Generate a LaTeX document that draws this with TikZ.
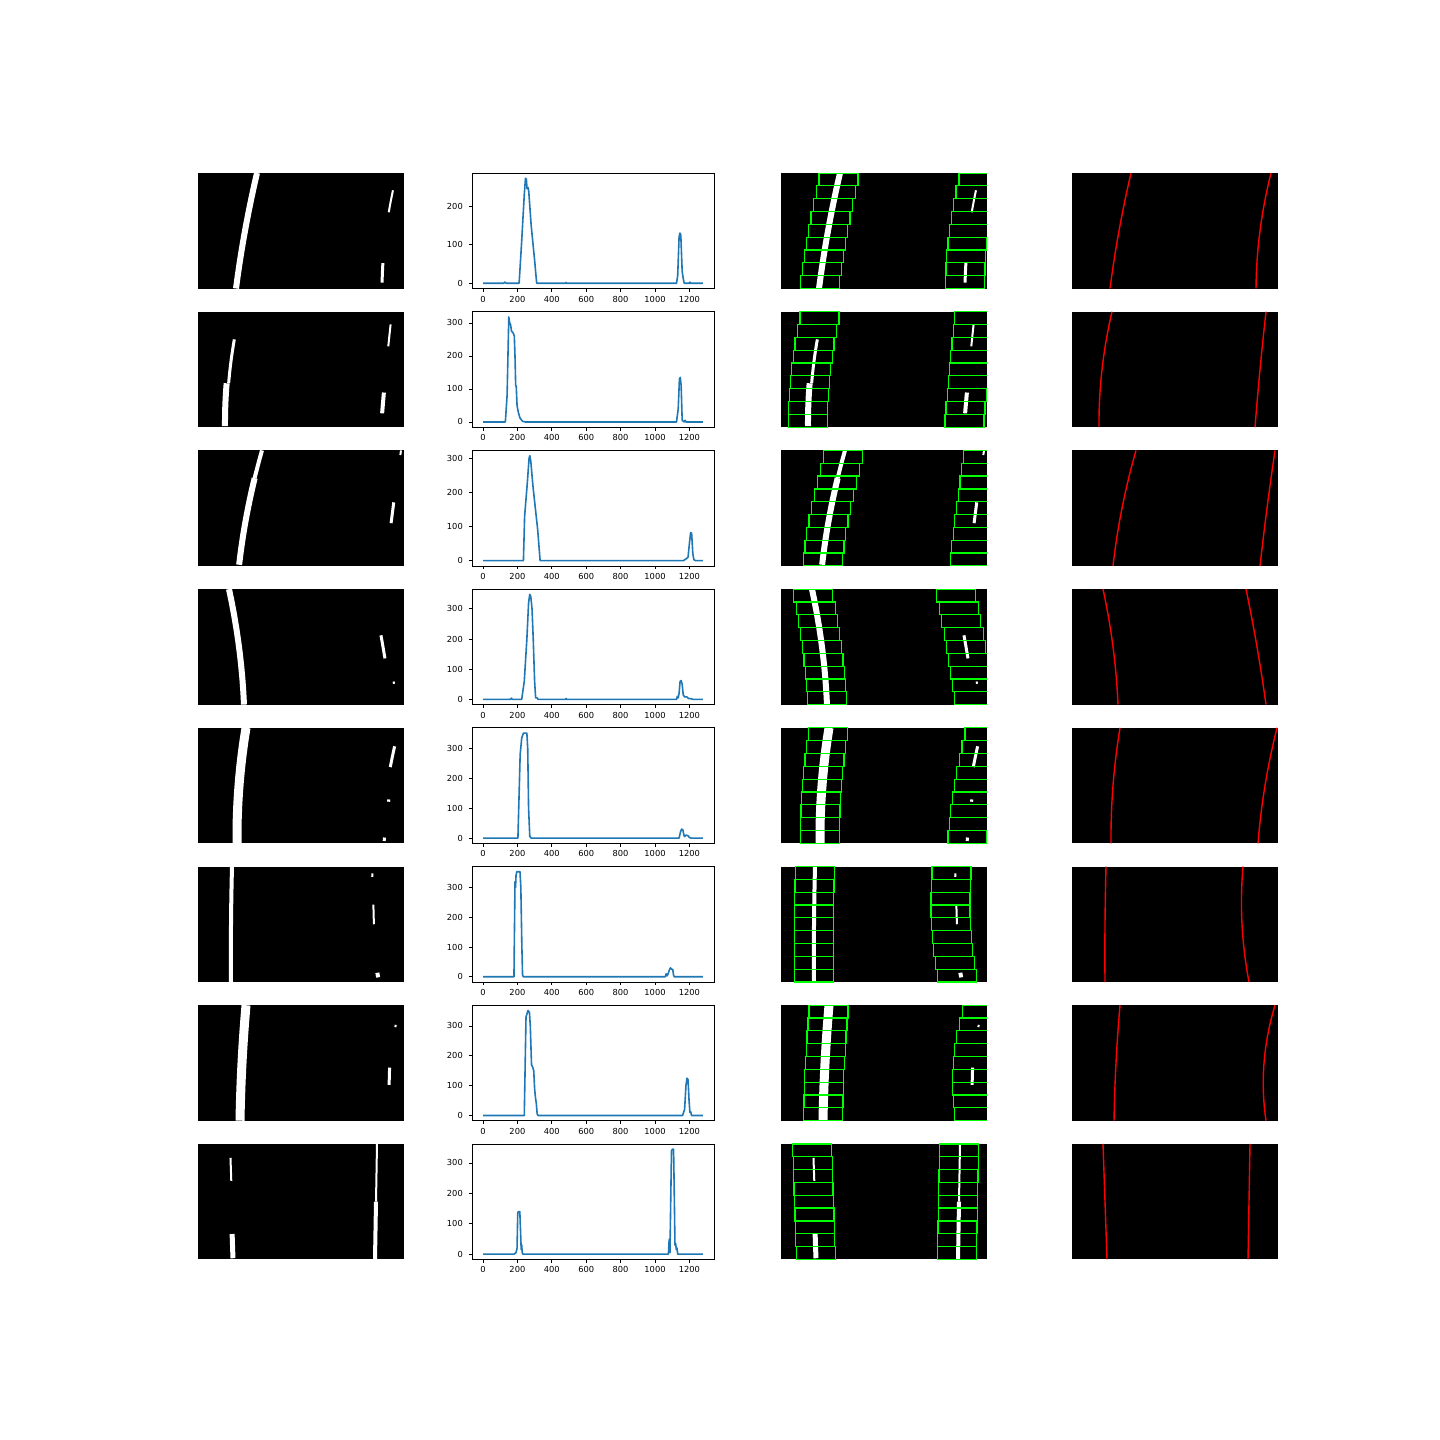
\documentclass[tikz,border=0pt]{standalone}
\usepackage{fontspec}
\setmainfont{DejaVu Sans}
\definecolor{histblue}{HTML}{1F77B4}
\definecolor{boxgreen}{RGB}{0,255,0}
\tikzset{
  panel/.style={fill=black},
  lanepx/.style={draw=white, line cap=butt},
  fitline/.style={draw=red, line width=1.4pt},
  winbox/.style={draw=boxgreen, line width=1.2pt},
  histline/.style={draw=histblue, line width=1.6pt, line join=round},
  frame/.style={draw=black, line width=0.7pt},
  ticklbl/.style={font=\fontsize{8.3}{9}\selectfont, inner sep=0pt},
}
% lane x at t (0 top, 1 bottom) through top/mid/bottom values
\newcommand{\lanex}[4]{#1*(2*#4-1)*(#4-1)+#2*4*#4*(1-#4)+#3*#4*(2*#4-1)}
% row, left T/M/B, right T/M/B, left segments, right segments
\newcommand{\setrow}[9]{%
  \pgfmathsetmacro\rtop{173+138.7*(#1-1)}%
  \def\LT{#2}\def\LM{#3}\def\LB{#4}%
  \def\RT{#5}\def\RM{#6}\def\RB{#7}%
  \def\lsegs{#8}\def\rsegs{#9}}
% binary image panel, #2=1 adds the search windows
\newcommand{\binpanel}[2]{%
  \begin{scope}
    \clip (#1,\rtop) rectangle ++(206,115.5);
    \fill[panel] (#1,\rtop) rectangle ++(206,115.5);
    \foreach \s/\e/\w/\d in \lsegs{
      \draw[lanepx, line width=\w pt] plot[variable=\t, domain=\s:\e, samples=10]
        ({#1+(\d)+\lanex{\LT}{\LM}{\LB}{\t}}, {\rtop+115.5*\t});
    }
    \foreach \s/\e/\w/\d in \rsegs{
      \draw[lanepx, line width=\w pt] plot[variable=\t, domain=\s:\e, samples=10]
        ({#1+(\d)+\lanex{\RT}{\RM}{\RB}{\t}}, {\rtop+115.5*\t});
    }
    \ifnum#2=1
      \foreach \kk in {0,...,8}{
        \pgfmathsetmacro\tc{(\kk+0.5)/9}
        \pgfmathsetmacro\winL{#1+\lanex{\LT}{\LM}{\LB}{\tc}}
        \pgfmathsetmacro\winR{#1+\lanex{\RT}{\RM}{\RB}{\tc}}
        \draw[winbox] (\winL-19.5,\rtop+115.5*\kk/9) rectangle (\winL+19.5,\rtop+115.5*\kk/9+12.83);
        \draw[winbox] (\winR-19.5,\rtop+115.5*\kk/9) rectangle (\winR+19.5,\rtop+115.5*\kk/9+12.83);
      }
    \fi
  \end{scope}}
\newcommand{\drawrow}{%
  \binpanel{198}{0}
  \binpanel{781}{1}
  \begin{scope}
    \clip (1072,\rtop) rectangle ++(206,115.5);
    \fill[panel] (1072,\rtop) rectangle ++(206,115.5);
    \draw[fitline] plot[variable=\t, domain=0:1, samples=20]
      ({1072+\lanex{\LT}{\LM}{\LB}{\t}}, {\rtop+115.5*\t});
    \draw[fitline] plot[variable=\t, domain=0:1, samples=20]
      ({1072+\lanex{\RT}{\RM}{\RB}{\t}}, {\rtop+115.5*\t});
  \end{scope}}
% row, peak value, y ticks, histogram points
\newcommand{\histrow}[4]{%
  \pgfmathsetmacro\rtop{173+138.7*(#1-1)}
  \pgfmathsetmacro\rbot{\rtop+115.5}
  \pgfmathsetmacro\yz{\rtop+115.5*1.05/1.1}
  \pgfmathsetmacro\ys{115.5/(1.1*#2)}
  \begin{scope}[shift={(483.0,\yz)}, x=0.172pt, y=\ys pt]
    \draw[histline] plot coordinates {#4};
  \end{scope}
  \draw[frame] (472,\rtop) rectangle (714,\rbot);
  \foreach \tv in {0,200,...,1200}{
    \draw[frame] (483.0+0.172*\tv,\rbot) -- ++(0,3.3);
    \node[ticklbl, anchor=north] (x#1-\tv) at (483.0+0.172*\tv,\rbot+7.2) {\tv};
  }
  \foreach \tv in {#3}{
    \pgfmathsetmacro\py{\yz-\ys*\tv}
    \draw[frame] (472,\py) -- ++(-3.3,0);
    \node[ticklbl, anchor=east] (y#1-\tv) at (463,\py) {\tv};
  }}

\begin{document}
\begin{tikzpicture}[x=1pt, y=-1pt]
\fill[white] (0,0) rectangle (1440,1440);
\useasboundingbox (0,0) rectangle (1440,1440);

% row 1
\setrow{1}{59}{47}{38}{199}{188}{184}{0/1/6/0}{0.15/0.34/2/0, 0.78/0.95/3/0}
\drawrow
\histrow{1}{272}{0,100,200}{(0,0) (120,0) (128,3) (135,0) (210,0) (225,110) (240,230) (247,272) (252,270) (256,245) (262,248) (266,238) (280,150) (300,60) (312,0) (480,0) (483,2) (486,0) (1125,0) (1132,20) (1140,120) (1145,130) (1150,125) (1158,30) (1165,10) (1170,0) (1200,0) (1203,3) (1206,0) (1279,0)}

% row 2
\setrow{2}{40}{30}{27}{194}{188}{183}{0.24/0.62/3/2, 0.62/0.99/6/0}{0.11/0.3/2/0, 0.7/0.88/4/0}
\drawrow
\histrow{2}{318}{0,100,200,300}{(0,0) (130,0) (140,80) (150,318) (155,300) (160,295) (166,275) (175,270) (182,260) (186,200) (190,110) (193,110) (198,50) (205,30) (215,12) (230,2) (245,0) (1125,0) (1135,40) (1142,130) (1147,135) (1152,110) (1158,5) (1170,0) (1175,5) (1180,0) (1279,0)}

% row 3
\setrow{3}{64}{50}{41}{203}{195}{188}{0/0.24/4/0, 0.24/0.99/6/0}{0/0.04/2/0, 0.45/0.63/3/0}
\drawrow
\histrow{3}{307}{0,100,200,300}{(0,0) (235,0) (242,130) (258,230) (268,300) (272,307) (278,290) (290,220) (305,150) (318,90) (332,0) (1165,0) (1180,5) (1192,10) (1200,50) (1207,82) (1213,80) (1220,20) (1226,3) (1235,0) (1279,0)}

% row 4
\setrow{4}{31}{41}{46}{174}{185}{194}{0/1/6/0}{0.4/0.6/3/0, 0.8/0.82/2/5}
\drawrow
\histrow{4}{348}{0,100,200,300}{(0,0) (160,0) (165,4) (170,0) (225,0) (240,60) (255,200) (265,320) (272,348) (278,340) (285,300) (292,200) (300,60) (306,5) (315,5) (320,0) (480,0) (483,3) (486,0) (1125,0) (1130,10) (1135,5) (1140,20) (1146,60) (1152,62) (1158,50) (1164,15) (1172,8) (1185,8) (1195,3) (1210,2) (1220,0) (1279,0)}

% row 5
\setrow{5}{48}{41}{39}{205}{193}{186}{0/1/9/0}{0.16/0.34/3/-4, 0.62/0.64/3/0, 0.95/0.98/3/0}
\drawrow
\histrow{5}{352}{0,100,200,300}{(0,0) (203,0) (210,150) (216,280) (225,335) (235,352) (255,352) (260,300) (265,100) (272,5) (280,0) (1140,0) (1148,20) (1155,30) (1162,28) (1168,10) (1172,5) (1180,10) (1192,8) (1200,2) (1210,0) (1279,0)}

% row 6
\setrow{6}{34}{33}{33}{171}{170}{177}{0/1/4/0}{0.06/0.09/2/4, 0.33/0.5/2/6, 0.92/0.96/4/4}
\drawrow
\histrow{6}{353}{0,100,200,300}{(0,0) (180,0) (186,320) (189,300) (192,340) (196,353) (215,353) (220,300) (226,100) (230,5) (235,0) (1060,0) (1065,10) (1070,3) (1075,8) (1085,25) (1090,30) (1097,25) (1103,25) (1108,5) (1112,0) (1279,0)}

% row 7
\setrow{7}{48}{44}{42}{203}{192}{194}{0/1/9/0}{0.17/0.19/2/0, 0.54/0.69/3/0}
\drawrow
\histrow{7}{352}{0,100,200,300}{(0,0) (240,0) (246,200) (250,330) (258,345) (262,352) (270,345) (275,300) (282,170) (290,160) (295,150) (300,90) (305,60) (310,40) (315,5) (320,0) (1160,0) (1172,20) (1180,100) (1186,125) (1192,120) (1198,50) (1203,10) (1208,12) (1212,0) (1279,0)}

% row 8
\setrow{8}{31}{33}{35}{178}{177}{176}{0.12/0.32/2/1, 0.78/0.99/5/0}{0/0.5/2/1, 0.5/1/4/1}
\drawrow
\histrow{8}{345}{0,100,200,300}{(0,0) (180,0) (192,5) (198,20) (202,135) (206,140) (214,140) (218,80) (222,15) (225,30) (228,5) (232,0) (1078,0) (1082,45) (1084,50) (1087,5) (1092,200) (1096,340) (1102,345) (1108,345) (1112,200) (1116,30) (1120,35) (1124,15) (1128,20) (1132,0) (1279,0)}
\end{tikzpicture}
\end{document}
